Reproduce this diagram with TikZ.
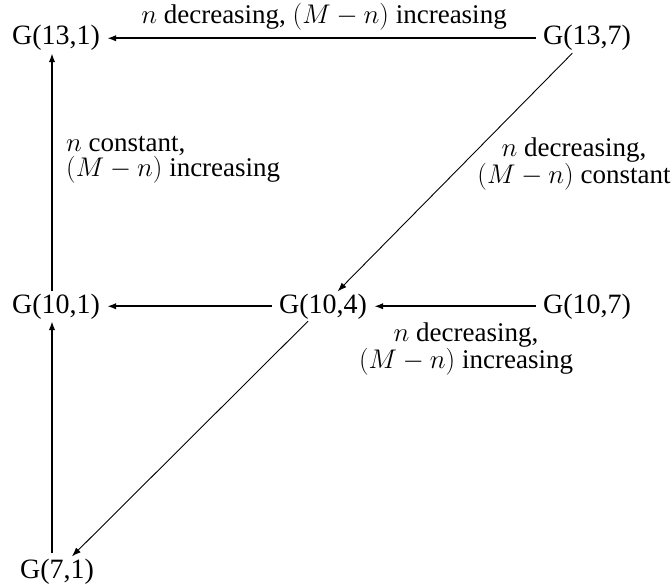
\RequirePackage{fix-cm}
\documentclass[tikz,border=0pt]{standalone}
\usepackage{fontspec}
\setmainfont{Liberation Serif}
\usetikzlibrary{arrows.meta}
\begin{document}
\begin{tikzpicture}[x=1pt,y=-1pt,
  gnode/.style={inner xsep=7pt, inner ysep=2pt, anchor=base, font=\fontsize{28}{24.5}\selectfont},
  lbl/.style={inner sep=0pt, font=\fontsize{27}{24.5}\selectfont},
  thickarr/.style={line width=2pt, -{Latex[length=9pt,width=6.5pt]}},
  thinarr/.style={line width=0.9pt, -{Latex[length=9pt,width=6.5pt]}}]
\useasboundingbox (0,0) rectangle (672,586);
\node[gnode] (n131) at (56,45) {G(13,1)};
\node[gnode] (n137) at (587,45) {G(13,7)};
\node[gnode] (n101) at (56,313) {G(10,1)};
\node[gnode] (n104) at (323,313) {G(10,4)};
\node[gnode] (n107) at (587,313) {G(10,7)};
\node[gnode] (n71) at (57,578) {G(7,1)};
\draw[thickarr] (n137) -- (n131);
\draw[thickarr] (n107) -- (n104);
\draw[thickarr] (n104) -- (n101);
\draw[thickarr] ([xshift=-4pt]n101.north) -- ([xshift=-4pt]n131.south);
\draw[thickarr] ([xshift=-5pt,yshift=3pt]n71.north) -- ([xshift=-4pt]n101.south);
\draw[thinarr] (n137) -- (n104);
\draw[thinarr] (n104) -- (n71);
\node[lbl, anchor=base] (ltop) at (324,24) {$n$ decreasing, $(M-n)$ increasing};
\node[lbl, align=left, anchor=west] (lleft) at (66,160) {$n$ constant,\\$(M-n)$ increasing};
\node[lbl, align=center] (lright) at (574,164) {$n$ decreasing,\\$(M-n)$ constant};
\node[lbl, align=center] (lbot) at (466,349) {$n$ decreasing,\\$(M-n)$ increasing};
\end{tikzpicture}
\end{document}
